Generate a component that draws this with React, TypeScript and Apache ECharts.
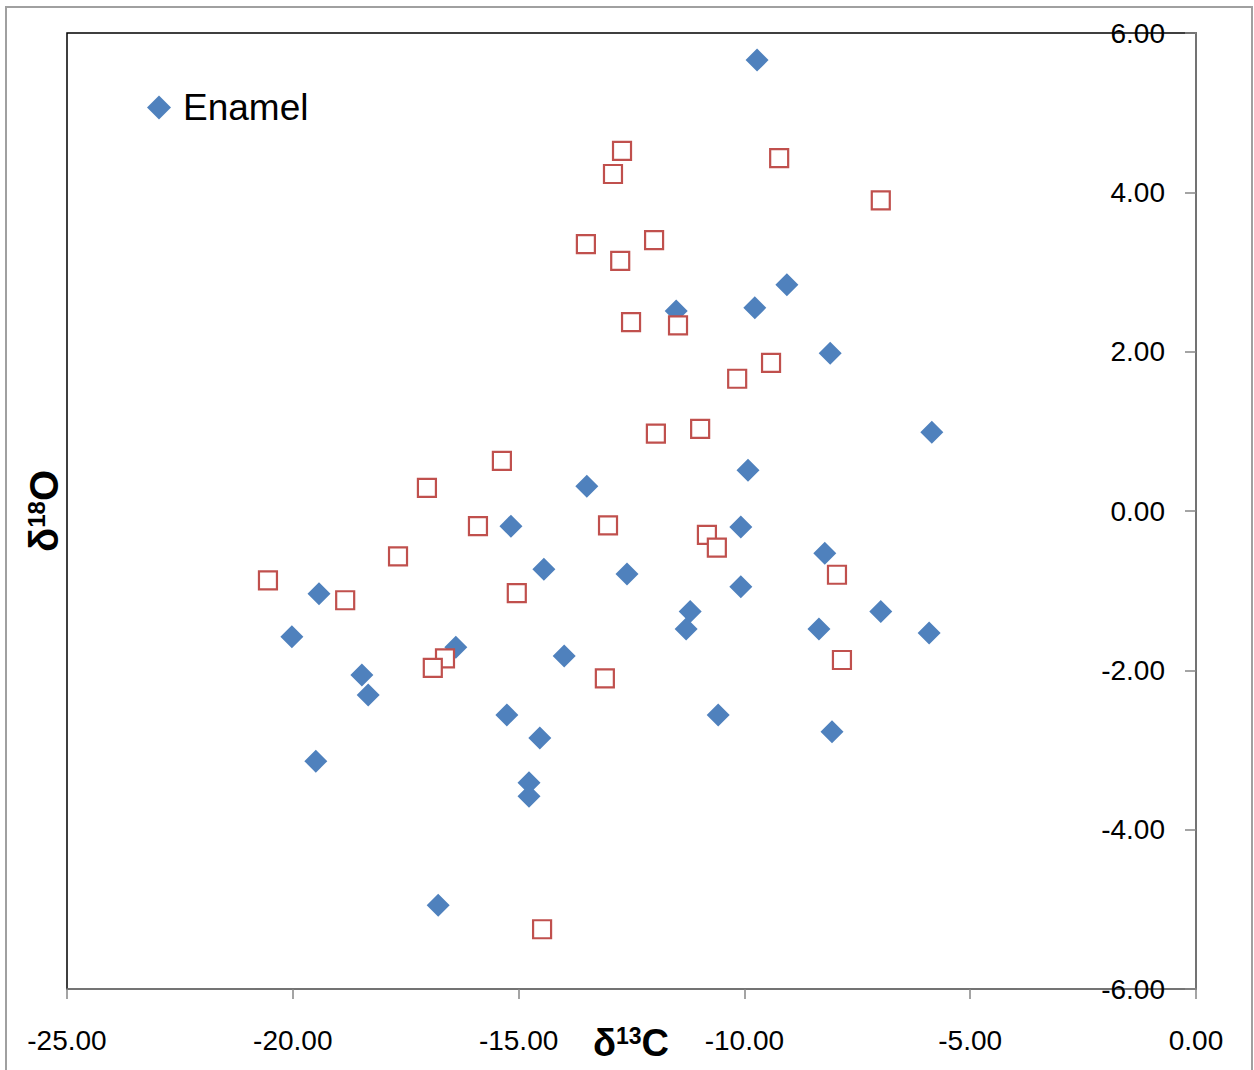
import React, { useEffect, useRef } from "react";
import * as echarts from "echarts";

const enamelX = [-9.72, -11.51, -9.77, -9.06, -8.10, -5.85, -9.92, -13.49, -15.17, -10.08, -8.22, -14.44, -12.60, -10.08, -19.42, -11.20, -6.98, -11.29, -8.35, -5.91, -20.02, -16.39, -13.99, -18.47, -18.33, -15.26, -10.58, -8.06, -14.53, -19.49, -14.77, -14.77, -16.78];
const enamelY = [5.66, 2.51, 2.55, 2.84, 1.98, 0.99, 0.51, 0.31, -0.19, -0.20, -0.53, -0.73, -0.79, -0.95, -1.04, -1.26, -1.26, -1.48, -1.48, -1.53, -1.58, -1.71, -1.82, -2.06, -2.31, -2.56, -2.56, -2.77, -2.85, -3.14, -3.41, -3.58, -4.95];

const otherX = [-12.71, -12.91, -9.23, -6.98, -13.51, -12.00, -12.75, -12.51, -11.47, -9.41, -10.16, -11.96, -10.98, -15.37, -17.03, -15.90, -13.02, -10.83, -10.61, -17.67, -20.55, -7.95, -18.84, -15.04, -16.63, -16.90, -7.84, -13.09, -14.48];
const otherY = [4.52, 4.23, 4.43, 3.90, 3.35, 3.40, 3.14, 2.37, 2.33, 1.86, 1.66, 0.97, 1.03, 0.63, 0.29, -0.19, -0.18, -0.30, -0.46, -0.57, -0.87, -0.80, -1.12, -1.03, -1.85, -1.97, -1.87, -2.10, -5.25];

const xRange = [-25, 0];
const yRange = [-6, 6];
const legendNames = ["Enamel"];

const FONT = "'Liberation Sans', Arial, sans-serif";

export default function App() {
  const ref = useRef<HTMLDivElement>(null);
  useEffect(() => {
    if (!ref.current) return;
    const chart = echarts.init(ref.current, null, { renderer: "svg" });
    const enamel = enamelX.map((x, i) => [x, enamelY[i]]);
    const other = otherX.map((x, i) => [x, otherY[i]]);
    chart.setOption({
      animation: false,
      backgroundColor: "#fff",
      grid: {
        left: 67,
        top: 33,
        right: 58,
        bottom: 81,
        show: true,
        borderColor: "#000",
        borderWidth: 1.5,
      },
      legend: {
        data: legendNames,
        left: 147,
        top: 89,
        padding: 0,
        icon: "diamond",
        itemWidth: 24,
        itemHeight: 24,
        selectedMode: false,
        itemStyle: { opacity: 1 },
        textStyle: {
          fontFamily: FONT,
          fontSize: 37,
          color: "#000",
          padding: [0, 0, 0, 7],
        },
      },
      xAxis: {
        type: "value",
        min: xRange[0],
        max: xRange[1],
        interval: 5,
        position: "bottom",
        axisLine: { onZero: false, lineStyle: { color: "#868686", width: 1.5 } },
        axisTick: { show: true, length: 10, lineStyle: { color: "#868686", width: 1.5 } },
        splitLine: { show: false },
        axisLabel: {
          formatter: (v: number) => v.toFixed(2),
          fontFamily: FONT,
          fontSize: 28,
          color: "#000",
          margin: 37,
        },
      },
      yAxis: {
        type: "value",
        min: yRange[0],
        max: yRange[1],
        interval: 2,
        position: "right",
        axisLine: { onZero: false, lineStyle: { color: "#868686", width: 1.5 } },
        axisTick: { show: true, inside: true, length: 11, lineStyle: { color: "#868686", width: 1.5 } },
        splitLine: { show: false },
        axisLabel: {
          inside: true,
          formatter: (v: number) => v.toFixed(2),
          fontFamily: FONT,
          fontSize: 28,
          color: "#000",
          margin: 31,
        },
      },
      graphic: [
        {
          type: "rect",
          shape: { x: 6, y: 7, width: 1246, height: 1090 },
          style: { fill: "none", stroke: "#a0a0a0", lineWidth: 2 },
          silent: true,
          z: -10,
        },
        {
          type: "text",
          x: 631,
          y: 1041,
          style: {
            text: "{a|δ}{b|13}{a|C}",
            align: "center",
            verticalAlign: "middle",
            rich: {
              a: { fontFamily: FONT, fontWeight: "bold", fontSize: 38, fill: "#000", lineHeight: 42, verticalAlign: "bottom" },
              b: { fontFamily: FONT, fontWeight: "bold", fontSize: 23, fill: "#000", lineHeight: 42, verticalAlign: "top", padding: [4, 0, 0, 0] },
            },
          },
        },
        {
          type: "text",
          x: 42,
          y: 511,
          rotation: Math.PI / 2,
          style: {
            text: "{a|δ}{b|18}{a|O}",
            align: "center",
            verticalAlign: "middle",
            rich: {
              a: { fontFamily: FONT, fontWeight: "bold", fontSize: 40, fill: "#000", lineHeight: 44, verticalAlign: "bottom" },
              b: { fontFamily: FONT, fontWeight: "bold", fontSize: 24, fill: "#000", lineHeight: 44, verticalAlign: "top", padding: [4, 0, 0, 0] },
            },
          },
        },
      ],
      series: [
        {
          name: "Enamel",
          type: "scatter",
          data: enamel,
          symbol: "diamond",
          symbolSize: 23,
          itemStyle: { color: "#4F81BD", opacity: 1 },
          z: 2,
        },
        {
          name: "Other",
          type: "scatter",
          data: other,
          symbol: "rect",
          symbolSize: 18,
          itemStyle: { color: "#FFFFFF", borderColor: "#C0504D", borderWidth: 2.2, opacity: 1 },
          z: 3,
        },
      ],
    });
    return () => chart.dispose();
  }, []);
  return (
    <div
      ref={ref}
      style={{ position: "fixed", left: 0, top: 0, width: 1254, height: 1070 }}
    />
  );
}
